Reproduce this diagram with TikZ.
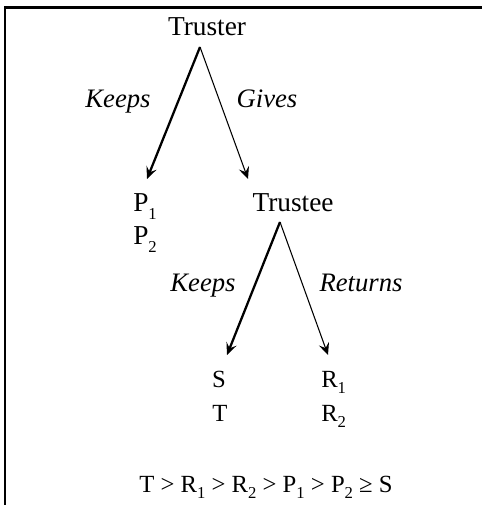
\documentclass[tikz,border=0pt]{standalone}
\usepackage{fontspec}
\setmainfont{Liberation Serif}
\usetikzlibrary{arrows.meta}
\newcommand{\sbs}[1]{\raisebox{-0.28em}{\fontsize{12.5}{12.5}\selectfont #1}}
\begin{document}
\begin{tikzpicture}[x=0.75pt,y=-0.75pt,
  lbl/.style={font=\fontsize{20.5}{23}\selectfont, inner sep=0pt, anchor=base},
  ilbl/.style={font=\fontsize{20}{23}\selectfont\itshape, inner sep=0pt, anchor=base},
  flbl/.style={font=\fontsize{18.5}{22}\selectfont, inner sep=0pt, anchor=base},
  thickarr/.style={line width=1.7pt, -{Stealth[length=9pt,width=8pt,inset=3.5pt]}},
  thinarr/.style={line width=0.8pt, -{Stealth[length=9pt,width=8pt,inset=3.5pt]}},
  frame/.style={line width=1.6pt}]
\useasboundingbox (0,0) rectangle (482,505);
% frame (top and left only)
\draw[frame] (5,505) -- (5,7.5) -- (482,7.5);
% nodes
\node[lbl] (truster) at (207,36) {Truster};
\coordinate (a1) at (200,47);
\coordinate (t1l) at (147,179);
\coordinate (t1r) at (248,179);
\node[ilbl] (keeps1) at (118,108) {Keeps};
\node[ilbl] (gives) at (267,108) {Gives};
\node[lbl, anchor=base west] (p1) at (133,212) {P\sbs{1}};
\node[lbl, anchor=base west] (p2) at (133,245) {P\sbs{2}};
\node[lbl] (trustee) at (293,212) {Trustee};
\coordinate (a2) at (280,222);
\coordinate (t2l) at (227,355);
\coordinate (t2r) at (328,355);
\node[ilbl] (keeps2) at (203,291) {Keeps};
\node[ilbl] (returns) at (361,291) {Returns};
\node[flbl] (s) at (219,387) {S};
\node[flbl] (t) at (220,421) {T};
\node[flbl, anchor=base west] (r1) at (321,387) {R\sbs{1}};
\node[flbl, anchor=base west] (r2) at (321,421) {R\sbs{2}};
\node[flbl] (ineq) at (266,492) {T > R\sbs{1} > R\sbs{2} > P\sbs{1} > P\sbs{2} ≥ S};
% connectors
\draw[thickarr] (a1) -- (t1l);
\draw[thinarr] (a1) -- (t1r);
\draw[thickarr] (a2) -- (t2l);
\draw[thinarr] (a2) -- (t2r);
\end{tikzpicture}
\end{document}
